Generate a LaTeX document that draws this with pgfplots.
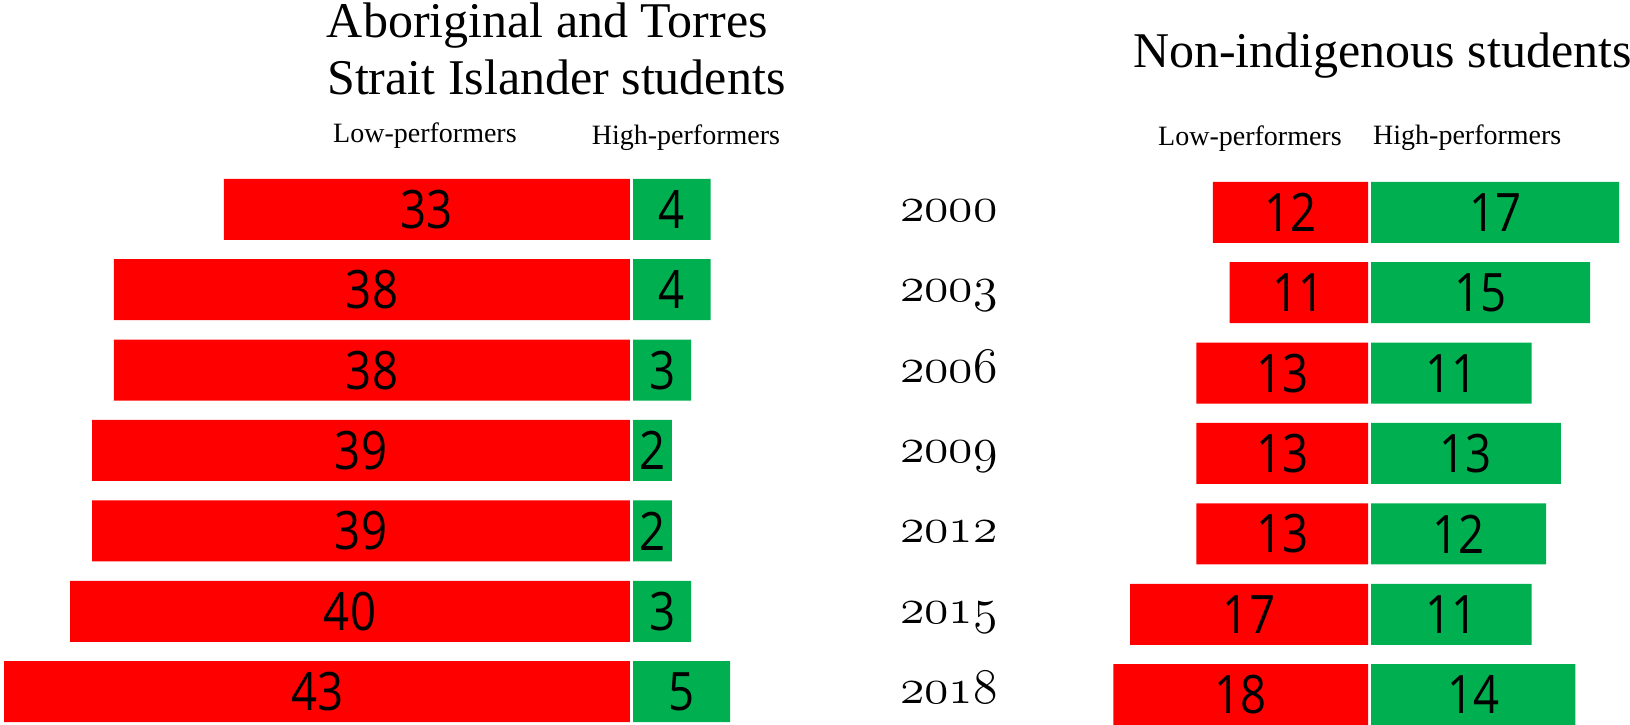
\documentclass[border=0pt]{standalone}
\usepackage{fontspec}
\setmainfont{Liberation Serif}
\newfontfamily\numfont[FakeStretch=0.86]{Open Sans}
\usepackage{graphicx}
\usepackage{pgfplots}
\usepackage{pgfplotstable}
\pgfplotsset{compat=1.18}
\definecolor{barred}{HTML}{FF0000}
\definecolor{bargreen}{HTML}{00B050}
% old-style figures for the years (math italic digits, scaled up)
\newcommand\yearfont{\fontsize{25}{25}\usefont{OML}{lmm}{m}{it}}

% share of students (%) by PISA round
\pgfplotstableread{
row year low high
0 2000 33 4
1 2003 38 4
2 2006 38 3
3 2009 39 2
4 2012 39 2
5 2015 40 3
6 2018 43 5
}\indig
\pgfplotstableread{
row year low high
0 2000 12 17
1 2003 11 15
2 2006 13 11
3 2009 13 13
4 2012 13 12
5 2015 17 11
6 2018 18 14
}\nonindig

\pgfplotsset{
  rows/.style={hide axis, scale only axis, clip=true, y dir=reverse,
    ymin=-0.5, ymax=6.5, height=562.8pt, anchor=north west},
  bars/.style={xbar, bar width=61pt, draw=none, fill=#1},
  barlbl/.style={draw=none, mark=none, nodes near coords,
    point meta=explicit symbolic,
    every node near coord/.append style={anchor=center, inner sep=0pt,
      text=black, font=\numfont\fontsize{53}{53}\selectfont}},
}

\begin{document}
\begin{tikzpicture}
\path[use as bounding box] (0pt,0pt) rectangle (1630pt,725pt);

% Aboriginal and Torres Strait Islander: low performers
\begin{axis}[rows, at={(4.2pt,555.9pt)}, width=625.8pt, x dir=reverse, xmin=14.5, xmax=43]
\addplot[bars=barred] table[x=low, y=row] {\indig};
\addplot[barlbl, x filter/.expression={(x+14.5)/2}] table[x=low, y=row, meta=low] {\indig};
\end{axis}
% high performers
\begin{axis}[rows, at={(633pt,555.9pt)}, width=97pt, xmin=0, xmax=5]
\addplot[bars=bargreen] table[x=high, y=row] {\indig};
\addplot[barlbl, x filter/.expression={x/2}] table[x=high, y=row, meta=high] {\indig};
\end{axis}

% years
\begin{axis}[rows, at={(939pt,555.9pt)}, width=20pt, xmin=0, xmax=1]
\addplot[draw=none, mark=none, point meta=explicit symbolic,
  nodes near coords={\scalebox{2}{\yearfont\pgfplotspointmeta}},
  every node near coord/.append style={anchor=base, inner sep=0pt, yshift=-12pt}]
  table[x expr=0.5, y=row, meta=year] {\indig};
\end{axis}

% Non-indigenous: low performers
\begin{axis}[rows, at={(1113.4pt,552.9pt)}, width=254.6pt, x dir=reverse, xmin=2.66, xmax=18]
\addplot[bars=barred] table[x=low, y=row] {\nonindig};
\addplot[barlbl, x filter/.expression={(x+2.66)/2}] table[x=low, y=row, meta=low] {\nonindig};
\end{axis}
% high performers
\begin{axis}[rows, at={(1371pt,552.9pt)}, width=248.2pt, xmin=0, xmax=17]
\addplot[bars=bargreen] table[x=high, y=row] {\nonindig};
\addplot[barlbl, x filter/.expression={x/2}] table[x=high, y=row, meta=high] {\nonindig};
\end{axis}

% headings
\begin{scope}[every node/.style={anchor=base west, inner sep=0pt}]
\node[font=\fontsize{50}{58}\selectfont] at (326.7pt,687pt) {Aboriginal and Torres};
\node[font=\fontsize{50}{58}\selectfont] at (327pt,630pt) {Strait Islander students};
\node[font=\fontsize{50}{58}\selectfont] at (1133pt,657.3pt) {Non-indigenous students};
\node[font=\fontsize{28}{30}\selectfont] at (333pt,582pt) {Low-performers};
\node[font=\fontsize{28}{30}\selectfont] at (591.7pt,580pt) {High-performers};
\node[font=\fontsize{28}{30}\selectfont] at (1158pt,579pt) {Low-performers};
\node[font=\fontsize{28}{30}\selectfont] at (1373pt,580pt) {High-performers};
\end{scope}
\end{tikzpicture}
\end{document}
